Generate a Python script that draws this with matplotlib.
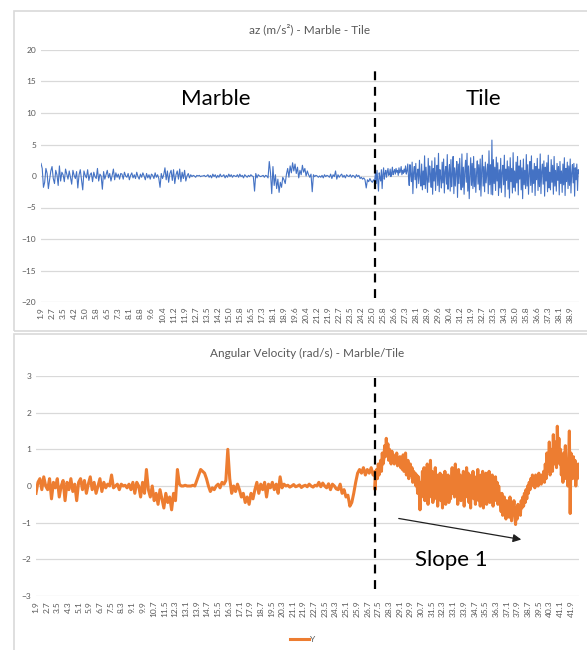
import numpy as np
import matplotlib
matplotlib.use("Agg")
import matplotlib.pyplot as plt
from matplotlib.patches import Rectangle

plt.rcParams['font.family'] = ['Lato', 'DejaVu Sans']

# ---- data: az (m/s^2) on marble, then on tile ----
az_marble = [
    2.0, 1.2, -1.8, -1.0, 1.2, 0.4, -2.0, -0.6, 0.8, 1.5, -0.4, -1.2, 0.9, 0.2, -1.5, 1.6,
    -0.8, 0.6, 0.2, -0.9, 1.1, 0.3, -0.5, 0.8, -0.2, -1.3, 0.9, 0.1, -0.4, 0.7, -1.9, 0.2,
    1.0, -0.6, -2.2, 0.8, 0.1, -0.3, 1.0, -0.7, 0.2, 0.5, -0.9, 0.6, -0.1, -0.4, 1.2, -0.8,
    0.3, 0.0, -2.1, 0.7, -0.5, 0.2, 0.9, -0.3, 0.4, -0.8, 0.1, 1.1, -0.6, 0.5, -0.2, 0.3,
    -0.5, 0.4,
    0.3, -0.5, 0.6, 0.0, -0.2, 0.4, -0.6, 0.1, 0.5, -0.3, 0.2, -0.4, 0.6, -0.1, -0.5, 0.3,
    -0.2, 0.5, 0.0, -0.6, 0.4, -0.3, 0.2, -0.5, 0.3, 0.1, -0.4, 0.5, -0.2, 0.2, -0.4, -1.8,
    0.4, -0.4, 0.2, 1.3, -0.6, 0.8, -1.0, 0.4, 0.9, -0.7, 1.0, -1.2, 0.2, 0.8, -0.5, 1.1,
    -0.9, 0.6, -0.4, 0.9, -0.8, 0.0, 0.4, -0.3, 0.2, -0.1, 0.1, 0.0, -0.2, 0.1, 0.0, 0.1,
    -0.1, 0.0,
    0.0, 0.1, -0.1, 0.0, 0.2, -0.2, 0.1, -0.3, 0.3, -0.1, 0.2, -0.3, 0.1, -0.2, 0.3, -0.1,
    0.0, 0.2, -0.3, 0.1, -0.2, 0.3, -0.1, 0.2, -0.2, 0.1, 0.0, -0.1, 0.2, -0.2, 0.3, -0.1,
    0.1, -0.3, 0.2, 0.0, -0.2, 0.1, -0.1, 0.2, 0.0, -0.1,
    -2.4, 0.4, -0.3, 0.2, 0.0, -0.1, 0.0, 0.1, -0.2, 0.1, 0.0, -0.3,
    2.3, 0.5, -2.8, 1.5, -1.5, 0.2, -2.0, -0.5, -2.6, -1.0, -1.8, -0.2, -0.6, -1.2,
    0.3, 1.2, -0.2, 1.6, 0.5, 2.1, 0.8, 1.9, 0.4, 1.4, -0.3, 0.9, 0.2, 1.7, 0.6, 1.2, 0.0,
    0.8, 0.2,
    -0.2, 0.3, -2.5, 0.2, -0.1, 0.1, 0.0, -0.2,
    0.0, -0.2, 0.1, -0.3, 0.2, -0.1, 0.1, 0.0, -0.2, 0.3, -0.4, 0.2, -0.1, 0.8, -0.5, 0.2,
    -0.2, 0.1, 0.3, -0.2, 0.1, -0.3, 0.2, 0.0, -0.1, 0.2, -0.2, 0.1, 0.0, -0.3, 0.2, -0.1,
    0.1, -0.4, -0.2, -0.5, -0.3, -0.6, -1.9, -0.6, -0.9, -0.4, -0.8, -1.0, -0.6, -0.9,
]
az_tile = [
    -0.4, 0.6, -1.2, 0.9, -0.8, -2.4, 0.5, -0.3, -0.8, 1.0, -2.0, 0.2, 1.3, -0.5, 0.4, 0.9,
    -0.2, 0.6, 1.2, 0.1, 0.3, 1.1, -0.1, 0.5, 1.4, 0.2, 0.7, 1.0, 0.3, 1.2, 0.6, 0.9, 0.1,
    1.3, 0.5, 0.8, 1.5, 0.2, 0.9, 0.4, 1.1, 0.6, 1.6, 0.3, 0.8, 1.9, 0.0,
    -1.5, 1.8, 0.2, -0.9, 2.2, -2.8, 0.6, 1.5, -0.6, 2.0, -1.9, 0.4, 1.1, -1.2, 2.5, -0.3,
    -1.6, 1.9, -2.2, 0.8,
    -1.4, 3.2, -2.0, 1.4, -0.5, -2.6, 2.8, -1.0, 1.6, 0.3, -1.8, 2.4, -2.9, 1.2, -0.8, 2.9,
    -2.3, 0.5, 1.7, -1.5, 3.6, -2.5, 1.0, -0.2, -1.9, 2.2, -1.1, 2.7, -2.7, 0.7, 1.5, -1.3,
    3.4, -2.1, 0.4, 1.8, -2.4, 2.6, -1.7, 0.2, 3.1, -2.8, 1.3, -1.6, 0.6, 2.3, -3.4, 1.9,
    -1.2, 2.8, -0.4, -2.2, 3.5, -1.8, 1.4, -2.9, 0.8, 2.5, -1.0, 3.6, -2.4, 1.6, -3.6, 0.1,
    2.9, -1.5, 2.0, -2.0, 3.1, -1.7, 1.2, -2.6, 0.5, 2.4, -1.3, 1.8, -2.2, 2.7, -3.2, 0.9,
    3.3, -1.6, 1.5, -2.5, 2.2, -1.1, 0.3, 1.9, -2.8, 4.0, -1.4, 1.8, -2.9, 5.7,
    -3.0, 2.6, -1.2, 1.4, -2.3, 3.0, -0.8, 2.1, -3.1, 1.0, -1.9, 2.8, -2.6, 0.6, 1.7, -1.4,
    3.3, -3.3, 1.1, -0.7, 2.4, -2.1, 1.5, -3.5, 2.9, -0.9, 1.2, -2.7, 3.7, -1.8, 0.8, -2.4,
    2.2, -1.1, 3.1, -3.0, 1.6, -0.5, 2.5, -2.2, 1.3, -3.6, 2.7, -1.4, 0.9, -2.0, 3.4, -1.6,
    1.8, -2.9, 0.4, 2.3, -1.5, 3.2, -2.6, 1.0, -1.2, 2.0, -3.1, 1.5, -0.6, 2.8, -2.3, 1.1,
    -1.7, 3.5, -2.8, 0.7, 1.9, -1.3, 2.4, -3.2, 1.4, -0.8, 2.1, -2.5, 3.3, -1.9, 0.6, -2.2,
    2.6, -1.0, 1.7, -2.9, 3.1, -1.6, 0.9, -2.4, 2.0, -0.7, 1.5, -3.0, 2.3, -1.2, 0.8, -2.6,
    1.9, -1.4, 2.9, -3.1, 1.2, -0.9, 2.2, -2.0, 1.6, -1.5, 2.7, -2.7, 0.5, 1.8, -1.1, 2.0,
    -3.2, 1.3, -0.6, 1.9, -2.3, 1.0, 0.4,
]
az_t0, az_switch, az_t1 = 1.9, 25.23, 39.5
az_ticks = ["1.9", "2.7", "3.5", "4.2", "5.0", "5.8", "6.5", "7.3", "8.1", "8.8", "9.6",
            "10.4", "11.2", "11.9", "12.7", "13.5", "14.2", "15.0", "15.8", "16.5", "17.3",
            "18.1", "18.9", "19.6", "20.4", "21.2", "21.9", "22.7", "23.5", "24.2", "25.0",
            "25.8", "26.6", "27.3", "28.1", "28.9", "29.6", "30.4", "31.2", "31.9", "32.7",
            "33.5", "34.3", "35.0", "35.8", "36.6", "37.3", "38.1", "38.9"]

# ---- data: angular velocity Y (rad/s) on marble, then on tile ----
gy_marble = [
    -0.2, 0.1, 0.2, -0.1, 0.25, 0.0, -0.1, 0.2, -0.35, 0.1, -0.05, 0.2, -0.3, 0.0, 0.15, -0.4,
    0.1, -0.1, 0.2, -0.15, 0.05, -0.4, 0.1, 0.2, -0.1, 0.15, -0.2, 0.05, 0.25, -0.1, 0.1, -0.2,
    0.0, 0.2, -0.15, 0.1, -0.05,
    0.05, 0.0, 0.3, -0.05, 0.0, 0.05, -0.1, 0.05, 0.0, 0.02, -0.05, 0.05, -0.1, 0.1, -0.2, 0.1,
    0.0, -0.3, 0.1, -0.2, 0.45,
    -0.1, -0.3, 0.0, -0.4, -0.2, -0.5, -0.1, -0.35, -0.6, -0.2, -0.45, -0.3, -0.65, -0.2, -0.4,
    0.45,
    0.05, 0.0, 0.0, 0.02, 0.0, 0.0, 0.0, 0.02, 0.0,
    0.15, 0.3, 0.45, 0.4, 0.35, 0.2, 0.0,
    -0.15, -0.05, -0.1, 0.0, 0.05, -0.05, 0.1, 0.05, 0.15,
    1.0, 0.2,
    -0.2, 0.0, -0.15, 0.05, -0.1, -0.3, -0.2, -0.45, -0.3, -0.5, -0.2, -0.35, -0.1,
    0.1, -0.2, 0.05, -0.1, 0.1, -0.3, 0.05, -0.05, 0.1, -0.1, 0.05, -0.2, 0.25, -0.05, 0.05, 0.0,
    0.02, -0.03, 0.0, 0.04, -0.02, 0.0, 0.03, -0.04, 0.0, 0.02, -0.02, 0.05, 0.0, -0.03, 0.02,
    0.0, 0.1, -0.02, 0.08, 0.0, -0.05, 0.06, -0.1, 0.05, 0.0, -0.08,
    -0.1, 0.05, -0.2, -0.1, -0.3, -0.25, -0.55,
    -0.45, -0.2, 0.1, 0.35, 0.45,
    0.35, 0.5, 0.3, 0.45, 0.35, 0.5, 0.3, 0.4,
]
gy_tile = [
    -0.1, 0.3, 0.45, 0.2, 0.6, 0.3, 0.5, 0.7, 0.4, 0.9, 0.6, 0.75, 1.1, 0.8, 1.3, 0.9, 1.15,
    0.7, 1.0, 0.8, 0.6, 0.95, 0.7, 0.85, 0.6, 0.8, 0.65, 0.9, 0.55, 0.75, 0.6,
    0.8, 0.5, 0.7, 0.45, 0.85, 0.4, 0.6, 0.9, 0.3, 0.5, 0.7, 0.2, 0.4, 0.6, 0.3, 0.5, 0.1,
    0.4, 0.2, 0.35, 0.0, 0.3, -0.2, 0.25, -0.1,
    -0.65, 0.1, -0.3, 0.4, -0.2, 0.5, -0.4, 0.2, -0.1, 0.6, -0.5, 0.3, -0.3, 0.7, -0.2, 0.4,
    -0.45, 0.1, -0.35, 0.5, -0.1, 0.3, -0.55, 0.2, -0.25, 0.35, -0.4, 0.1, -0.6, 0.3, -0.3,
    0.4, -0.5, 0.0, -0.2, 0.3, -0.45, 0.2, -0.35, 0.1, 0.5, -0.2, 0.4, -0.3, 0.6, -0.1, 0.2,
    -0.5, 0.45, -0.25, 0.3, -0.4, 0.1, -0.15, 0.4, -0.55, 0.2, -0.3, 0.5, -0.1, 0.35, -0.45,
    0.15, -0.6, 0.3, -0.2, 0.4, -0.35, 0.1, -0.5, 0.25, -0.3, 0.45, -0.4, 0.05, -0.55, 0.3,
    -0.2, 0.4, -0.6, 0.1, -0.35, 0.35, -0.5, 0.2, -0.25, 0.4, -0.45, 0.0, -0.3, 0.3, -0.55,
    0.15, -0.4, 0.25, -0.2, 0.1, -0.5, 0.0, -0.3,
    -0.4, -0.7, -0.2, -0.8, -0.5, -0.3, -0.6, -0.9, -0.4, -0.75, -0.5, -0.85, -0.3, -0.65,
    -0.95, -0.5, -0.7, -0.4, -0.8, -1.05, -0.6, -0.9, -0.5, -0.75, -0.6,
    -0.8, -0.4, -0.6, -0.3, -0.55, -0.2, -0.45, -0.1, -0.35, 0.0, -0.2, 0.1, -0.1, 0.2, 0.0,
    0.3, 0.05, 0.25, -0.05, 0.3, 0.1, 0.2, 0.0, 0.35, 0.15, 0.25, 0.05, 0.3, 0.2, 0.4, 0.1,
    0.6, 0.2, 0.9, 0.4, 0.5, 1.2, 0.3, 0.7, 1.0, 0.4, 1.4, 0.6, 0.9, 1.2, 0.5, 1.63, 0.8,
    1.3, 0.6,
    1.0, 0.3, 0.8, 0.1, 0.9, 0.4, 1.1, 0.2, 0.7, 0.0, 0.6, 1.5, -0.75, 0.9, 0.5, 0.2, 0.8,
    0.3, 0.7, 0.0, 0.5, 0.2, 0.6, 0.3,
]
gy_t0, gy_switch, gy_t1 = 1.9, 27.25, 42.5
gy_ticks = ["1.9", "2.7", "3.5", "4.3", "5.1", "5.9", "6.7", "7.5", "8.3", "9.1", "9.9",
            "10.7", "11.5", "12.3", "13.1", "13.9", "14.7", "15.5", "16.3", "17.1", "17.9",
            "18.7", "19.5", "20.3", "21.1", "21.9", "22.7", "23.5", "24.3", "25.1", "25.9",
            "26.7", "27.5", "28.3", "29.1", "29.9", "30.7", "31.5", "32.3", "33.1", "33.9",
            "34.7", "35.5", "36.3", "37.1", "37.9", "38.7", "39.5", "40.3", "41.1", "41.9"]

GRAY = "#595959"
GRID = "#D9D9D9"

fig = plt.figure(figsize=(5.87, 6.5), dpi=100)
W, H = 587, 650

# chart frames like in excel
fig.patches.append(Rectangle((14 / W, 1 - 331 / H), 1, 320 / H, transform=fig.transFigure,
                             fill=False, edgecolor=GRID, lw=1.2))
fig.patches.append(Rectangle((14 / W, -0.01), 1, 1 - 334 / H + 0.01, transform=fig.transFigure,
                             fill=False, edgecolor=GRID, lw=1.2))


def style(ax, labels, t0, t_last):
    for s in ax.spines.values():
        s.set_visible(False)
    ax.grid(axis='y', color=GRID, lw=0.9)
    ax.set_axisbelow(True)
    ax.tick_params(axis='both', length=0, colors=GRAY, labelsize=6)
    ax.set_xticks(np.linspace(t0, t_last, len(labels)))
    ax.set_xticklabels(labels, rotation=90)


def times(t0, ts, t1, a, b):
    # marble and tile parts each sampled evenly over their own time span
    return np.concatenate([np.linspace(t0, ts, len(a)), np.linspace(ts, t1, len(b))])


# top chart
ax1 = fig.add_axes([41 / W, 1 - 302 / H, 538 / W, 252 / H])
ax1.plot(times(az_t0, az_switch, az_t1, az_marble, az_tile), az_marble + az_tile,
         color="#4472C4", lw=0.8)
ax1.set_xlim(az_t0, az_t1)
ax1.set_ylim(-20, 20)
ax1.set_yticks(range(-20, 21, 5))
style(ax1, az_ticks, 1.9, 38.9)
ax1.axvline(az_switch, ymin=0.016, ymax=0.94, color="black", lw=1.6, ls=(0, (4, 3)))
ax1.text(0.5, 1.0 + 21 / 252, "az (m/s²) - Marble - Tile", transform=ax1.transAxes,
         ha='center', va='center', fontsize=8.5, color=GRAY)
fig.text(216 / W, 1 - 99 / H, "Marble", fontsize=16, ha='center', va='center')
fig.text(483 / W, 1 - 99 / H, "Tile", fontsize=16, ha='center', va='center')

# bottom chart
ax2 = fig.add_axes([36 / W, 1 - 596 / H, 543 / W, 220 / H])
line, = ax2.plot(times(gy_t0, gy_switch, gy_t1, gy_marble, gy_tile), gy_marble + gy_tile,
                 color="#ED7D31", lw=2.2, label="Y")
ax2.set_xlim(gy_t0, gy_t1)
ax2.set_ylim(-3, 3)
ax2.set_yticks(range(-3, 4))
style(ax2, gy_ticks, 1.9, 41.9)
ax2.axvline(gy_switch, ymin=0.03, ymax=0.99, color="black", lw=1.6, ls=(0, (4, 3)))
ax2.text(0.5, 1.0 + 23 / 220, "Angular Velocity (rad/s) - Marble/Tile", transform=ax2.transAxes,
         ha='center', va='center', fontsize=8.5, color=GRAY)
ax2.annotate("", xy=(524 / W, 1 - 540 / H), xytext=(396 / W, 1 - 518 / H),
             xycoords='figure fraction', textcoords='figure fraction',
             arrowprops=dict(arrowstyle='-|>', color='#202020', lw=0.9, mutation_scale=12))
fig.text(451 / W, 1 - 560 / H, "Slope 1", fontsize=16, ha='center', va='center')
leg = fig.legend(handles=[line], loc='center', bbox_to_anchor=(303 / W, 1 - 639 / H),
                 frameon=False, fontsize=6, handlelength=2.2, handletextpad=0.2)
for txt in leg.get_texts():
    txt.set_color(GRAY)

fig.savefig("out.png", dpi=100)
